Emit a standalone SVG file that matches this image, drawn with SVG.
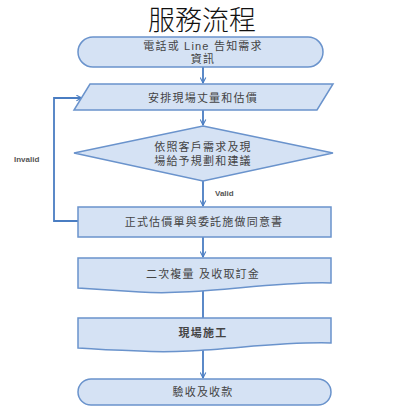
<svg xmlns="http://www.w3.org/2000/svg" width="405" height="408" viewBox="0 0 405 408">
<style>
.n{fill:#d5e2f4;stroke:#6a93cc;stroke-width:1.5}
.t{font-family:"Liberation Sans","Noto Sans CJK TC",sans-serif;font-size:11px;fill:#444;text-anchor:middle;letter-spacing:1.2px}
.c{stroke:#4a7dc2;stroke-width:1.8;fill:none}
.l{font-family:"Liberation Sans",sans-serif;font-size:8px;font-weight:bold;fill:#555}
</style>
<defs>
<marker id="a" viewBox="0 0 10 10" refX="9" refY="5" markerWidth="7" markerHeight="7" orient="auto" markerUnits="userSpaceOnUse">
<path d="M1,1 L9,5 L1,9" fill="none" stroke="#4a7dc2" stroke-width="1.5"/>
</marker>
</defs>
<rect width="405" height="408" fill="#fff"/>
<text x="202" y="30" font-family="'Noto Sans CJK TC',sans-serif" font-size="27" font-weight="300" fill="#111" text-anchor="middle">服務流程</text>
<g id="connectors">
<line class="c" x1="203" y1="67" x2="203" y2="83" marker-end="url(#a)"/>
<line class="c" x1="203" y1="110" x2="203" y2="125" marker-end="url(#a)"/>
<line class="c" x1="203" y1="181" x2="203" y2="206" marker-end="url(#a)"/>
<polyline class="c" points="78,221 54,221 54,98 82,98" marker-end="url(#a)"/>
<line class="c" x1="203" y1="237" x2="203" y2="257" marker-end="url(#a)"/>
<line class="c" x1="203" y1="291" x2="203" y2="318"/>
<line class="c" x1="203" y1="349" x2="203" y2="378" marker-end="url(#a)"/>
<text class="l" x="14" y="162">Invalid</text>
<text class="l" x="215" y="196">Valid</text>
</g>
<g id="start">
<rect class="n" x="78" y="37" width="245" height="30" rx="15"/>
<text class="t" x="203" y="50">電話或 Line 告知需求</text>
<text class="t" x="203" y="63">資訊</text>
</g>
<g id="arrange">
<polygon class="n" points="90,84 333,84 317,110 74,110"/>
<text class="t" x="203" y="102">安排現場丈量和估價</text>
</g>
<g id="decide">
<polygon class="n" points="203,126 333,153 203,181 74,153"/>
<text class="t" x="203" y="151">依照客戶需求及現</text>
<text class="t" x="203" y="165">場給予規劃和建議</text>
</g>
<g id="quote">
<rect class="n" x="78" y="207" width="253" height="30"/>
<text class="t" x="204" y="226">正式估價單與委託施做同意書</text>
</g>
<g id="measure">
<path class="n" d="M78,258 H331 V283 C270,281 200,296 140,292 C110,290 92,289 78,288 Z"/>
<text class="t" x="203" y="278">二次複量 及收取訂金</text>
</g>
<g id="build">
<path class="n" d="M78,318 H331 V343 C270,341 200,355 140,351 C110,350 92,349 78,348 Z"/>
<text class="t" x="203" y="337" font-weight="bold" fill="#222">現場施工</text>
</g>
<g id="end">
<rect class="n" x="78" y="379" width="253" height="26" rx="13"/>
<text class="t" x="203" y="396">驗收及收款</text>
</g>
</svg>
